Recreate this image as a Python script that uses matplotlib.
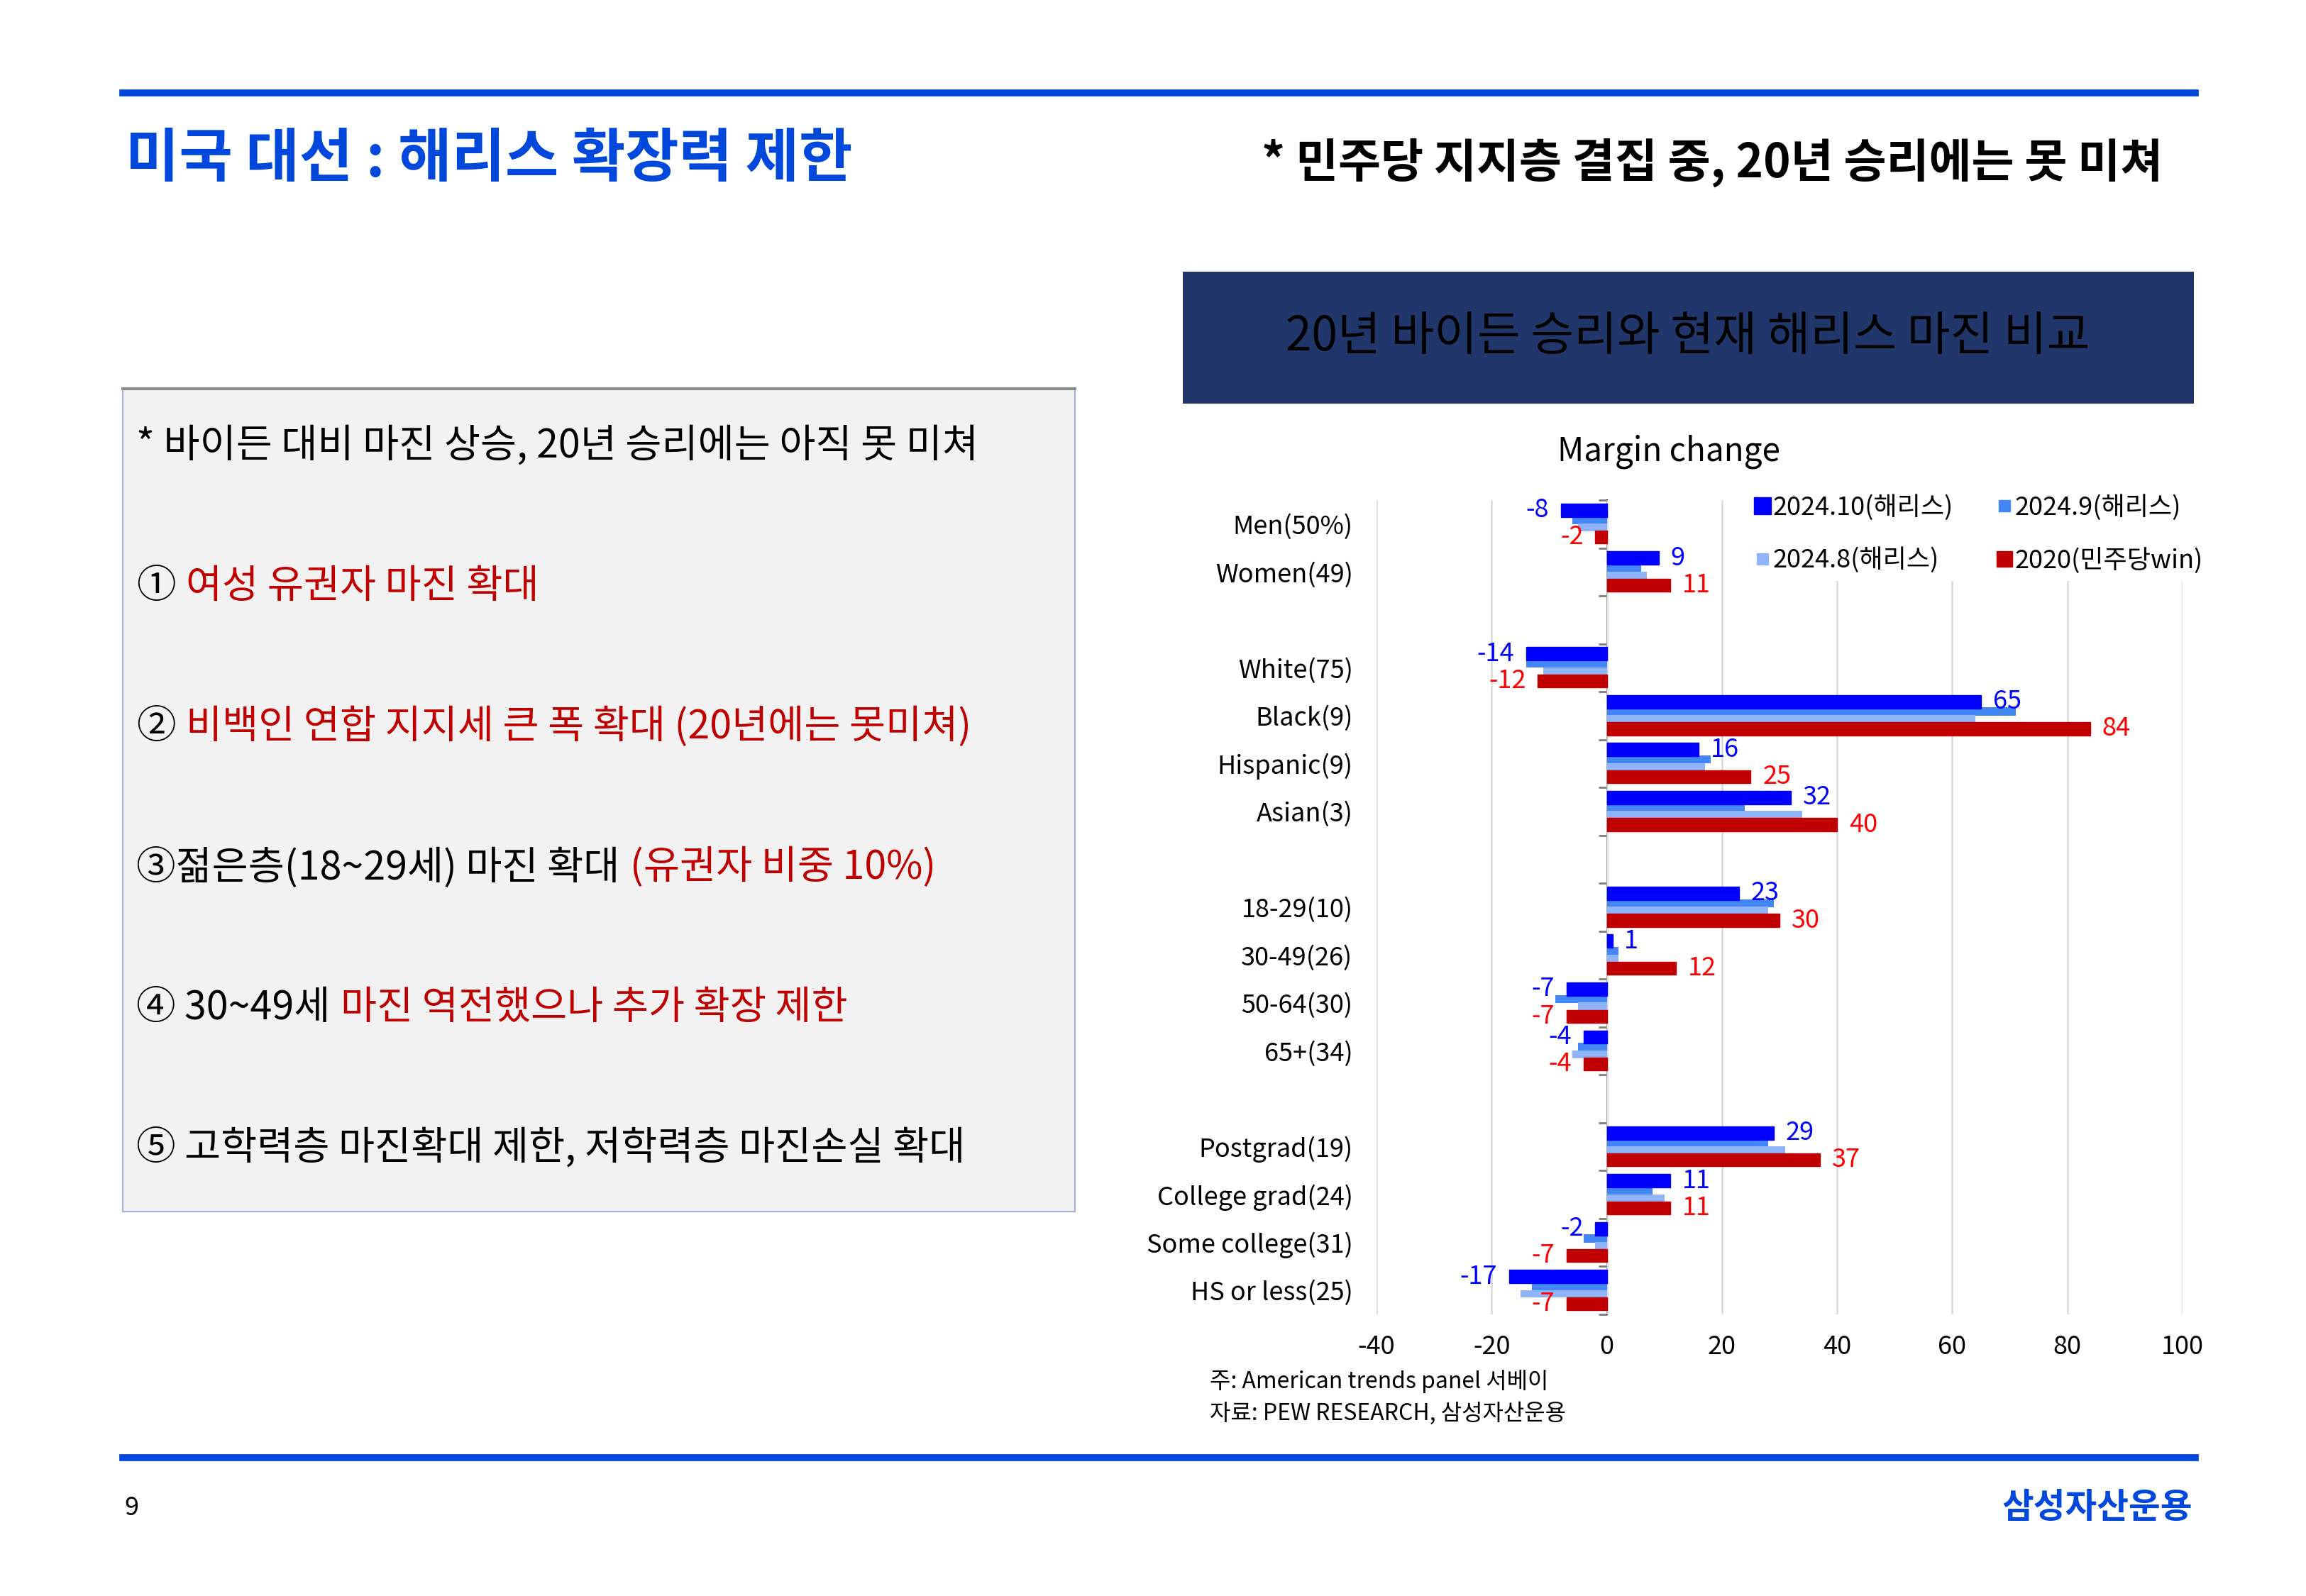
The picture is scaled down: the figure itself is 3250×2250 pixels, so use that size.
import numpy as np
import matplotlib.pyplot as plt
from matplotlib.patches import Rectangle
from matplotlib.lines import Line2D

plt.rcParams['font.family'] = ['Noto Sans CJK KR', 'DejaVu Sans']
plt.rcParams['axes.unicode_minus'] = False

nan = np.nan

# categories ('' = blank spacer row between groups)
categories = ['Men(50%)', 'Women(49)', '',
              'White(75)', 'Black(9)', 'Hispanic(9)', 'Asian(3)', '',
              '18-29(10)', '30-49(26)', '50-64(30)', '65+(34)', '',
              'Postgrad(19)', 'College grad(24)', 'Some college(31)', 'HS or less(25)']

oct_2024 = [-8, 9, nan, -14, 65, 16, 32, nan, 23, 1, -7, -4, nan, 29, 11, -2, -17]
sep_2024 = [-6, 6, nan, -14, 71, 18, 24, nan, 29, 2, -9, -5, nan, 28, 8, -4, -13]
aug_2024 = [-5, 7, nan, -11, 64, 17, 34, nan, 28, 2, -5, -6, nan, 31, 10, -2, -15]
win_2020 = [-2, 11, nan, -12, 84, 25, 40, nan, 30, 12, -7, -4, nan, 37, 11, -7, -7]

series_names = ['2024.10(해리스)', '2024.9(해리스)', '2024.8(해리스)', '2020(민주당win)']
x_ticks = [-40, -20, 0, 20, 40, 60, 80, 100]

W, H = 3250, 2250
def fx(px):
    return px / W
def fy(py):
    return 1 - py / H

fig = plt.figure(figsize=(32.5, 22.5), dpi=100)

BLUE_LINE = '#0047DC'
DARK_RED = '#C00000'

# header / footer lines
fig.add_artist(Line2D([fx(173), fx(3094)], [fy(131), fy(131)], color=BLUE_LINE, lw=7))
fig.add_artist(Line2D([fx(173), fx(3094)], [fy(2055), fy(2055)], color=BLUE_LINE, lw=7))

fig.text(fx(177), fy(225), '미국 대선 : 해리스 확장력 제한', color=BLUE_LINE,
         fontsize=59, fontweight='bold', va='center', ha='left')
fig.text(fx(3048), fy(229), '* 민주당 지지층 결집 중, 20년 승리에는 못 미쳐', color='black',
         fontsize=47, fontweight='bold', va='center', ha='right')

# navy title box
fig.add_artist(Rectangle((fx(1667), fy(569)), (3092 - 1667) / W, (569 - 383) / H,
                         transform=fig.transFigure, facecolor='#21366A', edgecolor='none'))
fig.text(fx(2379), fy(475), '20년 바이든 승리와 현재 해리스 마진 비교', color='black',
         fontsize=47.5, va='center', ha='center')

# left comment box
fig.add_artist(Rectangle((fx(173), fy(1708)), (1515 - 173) / W, (1708 - 548) / H,
                         transform=fig.transFigure, facecolor='#F2F2F2',
                         edgecolor='#A3B3DC', lw=1.5))
fig.add_artist(Line2D([fx(173), fx(1515)], [fy(548), fy(548)], color='#8C8C8C', lw=3))

renderer = fig.canvas.get_renderer()

def rich_line(x, y, parts, fs):
    # draw text pieces of different colours one after another
    gap = 0.26 * fs * fig.dpi / 72.0
    for s, c in parts:
        t = fig.text(x, y, s, color=c, fontsize=fs, va='center', ha='left')
        bb = t.get_window_extent(renderer=renderer)
        x = x + (bb.width + gap) / fig.bbox.width

box_lines = [
    [('* 바이든 대비 마진 상승, 20년 승리에는 아직 못 미쳐', 'black')],
    [('①', 'black'), ('여성 유권자 마진 확대', DARK_RED)],
    [('②', 'black'), ('비백인 연합 지지세 큰 폭 확대 (20년에는 못미쳐)', DARK_RED)],
    [('③젊은층(18~29세) 마진 확대', 'black'), ('(유권자 비중 10%)', DARK_RED)],
    [('④ 30~49세', 'black'), ('마진 역전했으나 추가 확장 제한', DARK_RED)],
    [('⑤ 고학력층 마진확대 제한, 저학력층 마진손실 확대', 'black')],
]
line_y = [629, 827, 1025, 1223, 1421, 1619]
for parts, yy in zip(box_lines, line_y):
    rich_line(fx(192), fy(yy), parts, 40)

# chart
ax = fig.add_axes([fx(1940), fy(1853), (3076 - 1940) / W, (1853 - 705) / H])
n = len(categories)
centers = np.arange(n) + 0.5

colors = ['#0000FF', '#4287F5', '#8FB4FA', DARK_RED]
offsets = [-0.29, -0.085, 0.07, 0.275]
heights = [0.28, 0.17, 0.16, 0.27]
zorders = [4, 3, 3, 4]
all_series = [oct_2024, sep_2024, aug_2024, win_2020]

for vals, c, off, h, z in zip(all_series, colors, offsets, heights, zorders):
    ax.barh(centers + off, vals, height=h, color=c, edgecolor=c if z == 4 else 'none',
            lw=1.0, zorder=z)

# data labels for 2024.10 (blue) and 2020 (red)
for vals, c, off in [(oct_2024, '#0000FF', offsets[0]), (win_2020, '#FF0000', offsets[3])]:
    for yc, v in zip(centers, vals):
        if np.isnan(v):
            continue
        if v >= 0:
            ax.annotate(f'{v:g}', (v, yc + off), xytext=(12, 0), textcoords='offset points',
                        ha='left', va='center', color=c, fontsize=26, zorder=6)
        else:
            ax.annotate(f'{v:g}', (v, yc + off), xytext=(-12, 0), textcoords='offset points',
                        ha='right', va='center', color=c, fontsize=26, zorder=6)

ax.set_xlim(-40, 100)
ax.set_ylim(n, 0)
ax.set_xticks(x_ticks)
ax.set_xticklabels([str(t) for t in x_ticks])
ax.set_yticks(centers)
ax.set_yticklabels(categories)
ax.tick_params(axis='both', length=0, labelsize=26)
ax.tick_params(axis='x', pad=20)
ax.tick_params(axis='y', pad=24)
ax.xaxis.grid(True, color='#D9D9D9', lw=1.8)
ax.set_axisbelow(True)
for s in ax.spines.values():
    s.set_visible(False)

# vertical axis line at zero with boundary ticks
zero_loc = (0 - ax.get_xlim()[0]) / (ax.get_xlim()[1] - ax.get_xlim()[0])
sec = ax.secondary_yaxis(zero_loc)
sec.set_yticks(np.arange(n + 1))
sec.set_yticklabels([])
sec.tick_params(length=9, width=2, color='#7F7F7F', direction='out')
sec.spines['left'].set_color('black')
sec.spines['left'].set_linewidth(1.3)

fig.text(fx(2352), fy(637), 'Margin change', fontsize=33, ha='center', va='center')

handles = [Line2D([], [], marker='s', ls='', color=colors[0], markersize=17),
           Line2D([], [], marker='s', ls='', color=colors[2], markersize=12),
           Line2D([], [], marker='s', ls='', color=colors[1], markersize=12),
           Line2D([], [], marker='s', ls='', color=colors[3], markersize=16)]
labels = [series_names[0], series_names[2], series_names[1], series_names[3]]
leg = ax.legend(handles, labels, ncol=2, loc='upper left',
                bbox_to_anchor=(fx(2462), fy(686)), bbox_transform=fig.transFigure,
                fontsize=26, frameon=True, framealpha=1, facecolor='white', edgecolor='none',
                handlelength=0.6, handletextpad=0.1, columnspacing=1.7, labelspacing=1.05,
                borderpad=0.3, borderaxespad=0)
leg.set_zorder(5)

# notes
fig.text(fx(1705), fy(1948), '주: American trends panel 서베이', fontsize=23, va='center')
fig.text(fx(1705), fy(1993), '자료: PEW RESEARCH, 삼성자산운용', fontsize=23, va='center')

# footer
fig.text(fx(175), fy(2126), '9', fontsize=26, va='center')
fig.text(fx(3090), fy(2126), '삼성자산운용', color=BLUE_LINE, fontsize=35,
         fontweight='bold', va='center', ha='right')

fig.savefig('out.png', dpi=100)
